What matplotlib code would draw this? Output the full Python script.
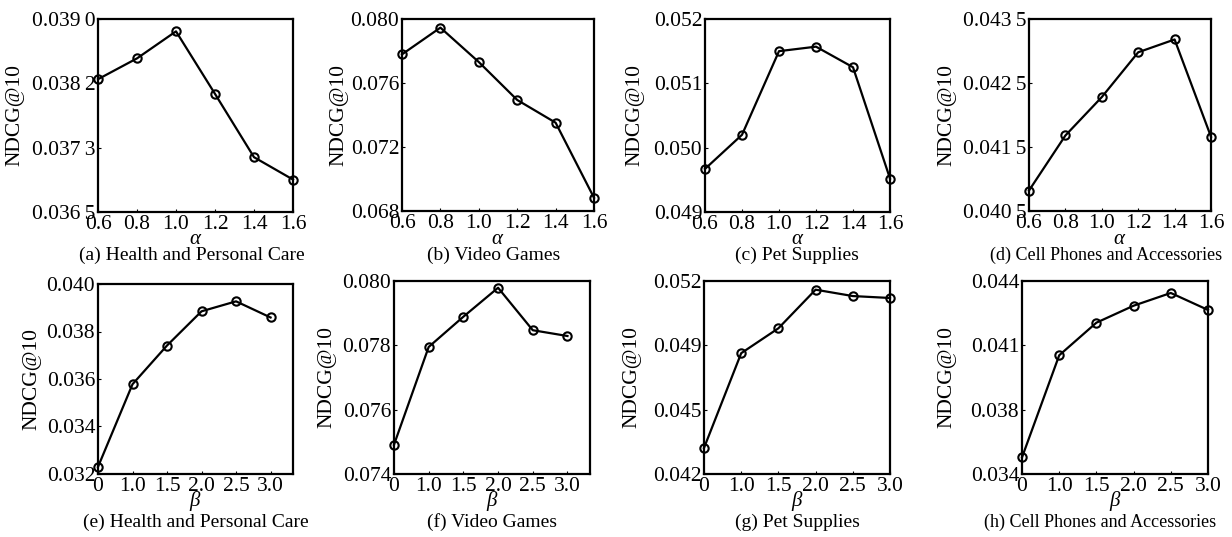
import numpy as np
import matplotlib
matplotlib.use("Agg")
import matplotlib.pyplot as plt

plt.rcParams['font.family'] = ['Liberation Serif', 'DejaVu Serif']
plt.rcParams['mathtext.fontset'] = 'custom'
plt.rcParams['mathtext.it'] = 'Liberation Serif:italic'
plt.rcParams['mathtext.rm'] = 'Liberation Serif'

W, H = 1232, 537

alpha_x = [0.6, 0.8, 1.0, 1.2, 1.4, 1.6]
beta_labels = ['0', '1.0', '1.5', '2.0', '2.5', '3.0']

a_vals = [0.03822, 0.03849, 0.03884, 0.03803, 0.03721, 0.03692]
b_vals = [0.07779, 0.07946, 0.07731, 0.07494, 0.07352, 0.06883]
c_vals = [0.04967, 0.05020, 0.05150, 0.05157, 0.05125, 0.04952]
d_vals = [0.04082, 0.04168, 0.04228, 0.04298, 0.04318, 0.04166]
e_vals = [0.03230, 0.03578, 0.03741, 0.03885, 0.03927, 0.03859]
f_vals = [0.07491, 0.07795, 0.07889, 0.07979, 0.07847, 0.07829]
g_vals = [0.04335, 0.04826, 0.04955, 0.05155, 0.05122, 0.05112]
h_vals = [0.03486, 0.04015, 0.04184, 0.04272, 0.04338, 0.04250]

captions = ['(a) Health and Personal Care', '(b) Video Games', '(c) Pet Supplies',
            '(d) Cell Phones and Accessories', '(e) Health and Personal Care',
            '(f) Video Games', '(g) Pet Supplies', '(h) Cell Phones and Accessories']

ylims = [(0.0365, 0.0390), (0.068, 0.080), (0.049, 0.052), (0.0405, 0.0435),
         (0.032, 0.040), (0.074, 0.080), (0.042, 0.052), (0.034, 0.044)]
ytick_labels = [
    ['0.036\u20095', '0.037\u20093', '0.038\u20092', '0.039\u20090'],
    ['0.068', '0.072', '0.076', '0.080'],
    ['0.049', '0.050', '0.051', '0.052'],
    ['0.040\u20095', '0.041\u20095', '0.042\u20095', '0.043\u20095'],
    ['0.032', '0.034', '0.036', '0.038', '0.040'],
    ['0.074', '0.076', '0.078', '0.080'],
    ['0.042', '0.045', '0.049', '0.052'],
    ['0.034', '0.038', '0.041', '0.044'],
]
series = [a_vals, b_vals, c_vals, d_vals, e_vals, f_vals, g_vals, h_vals]

# axes boxes in pixels: (x0, y0_top, x1, y1_bottom)
boxes = [(98, 19, 293, 212), (402, 19, 594, 211), (705, 19, 890, 212), (1029, 19, 1211, 211),
         (98, 284, 293, 474), (394, 281, 590, 474), (704, 281, 890, 474), (1022, 281, 1208, 474)]
xmax_beta = [5.65, 5.65, 5.0, 5.0]
ylabel_x = [15, 339, 635, 947, 32, 327, 632, 947]
caption_x = [192, 494, 797, 1106, 196, 492, 797, 1100]
caption_fs = [14, 14, 14, 13, 14, 14, 14, 13]

fig = plt.figure(figsize=(W / 100, H / 100), dpi=100)

for i in range(8):
    x0, y0, x1, y1 = boxes[i]
    ax = fig.add_axes([x0 / W, 1 - y1 / H, (x1 - x0) / W, (y1 - y0) / H])
    vals = series[i]
    if i < 4:
        xs = alpha_x
        ax.set_xlim(0.6, 1.6)
        ax.set_xticks(alpha_x)
        ax.set_xticklabels([f'{v:.1f}' for v in alpha_x])
        xl = r'$\alpha$'
        xl_y, cap_y = 239, 255
    else:
        xs = np.arange(len(beta_labels))
        ax.set_xlim(0, xmax_beta[i - 4])
        ax.set_xticks(xs)
        ax.set_xticklabels(beta_labels)
        xl = r'$\beta$'
        xl_y, cap_y = 501, 522
    ax.plot(xs, vals, color='black', lw=1.6, marker='o', ms=6, mfc='none',
            mec='black', mew=1.5, clip_on=False, zorder=3)
    lo, hi = ylims[i]
    ax.set_ylim(lo, hi)
    labs = ytick_labels[i]
    ax.set_yticks(np.linspace(lo, hi, len(labs)))
    ax.set_yticklabels(labs)
    ax.tick_params(axis='both', direction='in', length=2, width=0.8, labelsize=15.5, pad=2)
    for s in ax.spines.values():
        s.set_linewidth(1.6)
    cx = (x0 + x1) / 2 / W
    fig.text(cx, 1 - xl_y / H, xl, ha='center', va='center', fontsize=15)
    fig.text(caption_x[i] / W, 1 - cap_y / H, captions[i], ha='center', va='center',
             fontsize=caption_fs[i])
    fig.text(ylabel_x[i] / W, 1 - ((y0 + y1) / 2) / H, 'NDCG@10', rotation=90,
             ha='center', va='center', fontsize=15.5)

fig.savefig('out.png', dpi=100)
